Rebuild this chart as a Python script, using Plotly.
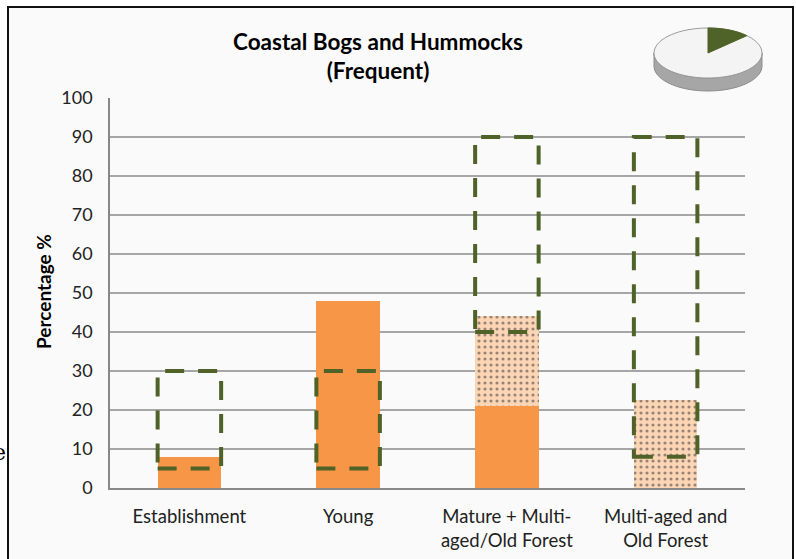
import numpy as np
import plotly.graph_objects as go

categories = ["Establishment", "Young", "Mature + Multi-<br>aged/Old Forest", "Multi-aged and<br>Old Forest"]
solid_values = [8, 48, 21, 0]
stipple_values = [0, 0, 23, 22.5]
range_low = [5, 5, 40, 8]
range_high = [30, 30, 90, 90]
y_ticks = [0, 10, 20, 30, 40, 50, 60, 70, 80, 90, 100]

W, H = 796, 559
L, R, T, B = 110, 745, 98, 488

def px(x):
    return (x - L) / (R - L)

def py(y):
    return (B - y) / (B - T)

fig = go.Figure()
fig.add_trace(go.Bar(x=list(range(len(categories))), y=solid_values, marker=dict(color="#f79646", line=dict(width=0)),
                     width=0.4, showlegend=False, hoverinfo="skip"))
fig.add_trace(go.Bar(x=list(range(len(categories))), y=stipple_values,
                     marker=dict(color="#fcd5b5", line=dict(width=0),
                                 pattern=dict(shape=".", fgcolor="#333333", bgcolor="#fcd5b5", size=6, solidity=0.22)),
                     width=0.4, showlegend=False, hoverinfo="skip"))

shapes = []
# frame
shapes.append(dict(type="rect", xref="paper", yref="paper", x0=px(8), x1=px(793), y0=py(575), y1=py(7),
                   fillcolor="#fafafa", line=dict(color="#111111", width=2), layer="below"))
# dashed range rectangles
for i, (lo, hi) in enumerate(zip(range_low, range_high)):
    shapes.append(dict(type="rect", xref="x", yref="y", x0=i - 0.2, x1=i + 0.2, y0=lo, y1=hi,
                       line=dict(color="#4f6228", width=4, dash="19px,14px"), layer="above"))

# pie icon
cx, cy, rx, ry, depth = 708, 53, 54, 25, 13
t = np.linspace(0, 2 * np.pi, 80)
def path_from(pts):
    return "M " + " L ".join(f"{px(a):.5f},{py(b):.5f}" for a, b in pts) + " Z"
side = [(cx + rx * np.cos(a), cy + ry * np.sin(a)) for a in np.linspace(0, np.pi, 40)]
side_bottom = [(cx + rx * np.cos(a), cy + depth + ry * np.sin(a)) for a in np.linspace(np.pi, 0, 40)]
shapes.append(dict(type="path", xref="paper", yref="paper", path=path_from(side_bottom[::-1] + side[::-1]),
                   fillcolor="#a6a6a6", line=dict(color="#8c8c8c", width=1)))
top = [(cx + rx * np.cos(a), cy + ry * np.sin(a)) for a in t]
shapes.append(dict(type="path", xref="paper", yref="paper", path=path_from(top),
                   fillcolor="#f4f4f4", line=dict(color="#9a9a9a", width=1)))
wedge = [(cx, cy)] + [(cx + rx * np.cos(a), cy - ry * np.sin(a)) for a in np.linspace(np.pi / 2, np.radians(44), 15)]
shapes.append(dict(type="path", xref="paper", yref="paper", path=path_from(wedge),
                   fillcolor="#4f6228", line=dict(color="#4f6228", width=1)))

annotations = [
    dict(text="<b>Coastal Bogs and Hummocks<br>(Frequent)</b>", xref="paper", yref="paper",
         x=px(378), y=py(56), xanchor="center", yanchor="middle", showarrow=False,
         font=dict(family="Lato", size=22.5, color="#000000")),
    dict(text="<b>Percentage %</b>", xref="paper", yref="paper", x=px(43), y=py(292), textangle=-90,
         xanchor="center", yanchor="middle", showarrow=False,
         font=dict(family="Lato", size=19, color="#000000")),
    dict(text="e", xref="paper", yref="paper", x=px(8), y=py(452), xanchor="right", yanchor="middle",
         showarrow=False, font=dict(family="DejaVu Serif", size=22, color="#000000")),
]

fig.update_layout(
    width=W, height=H, barmode="stack",
    margin=dict(l=L, r=W - R, t=T, b=H - B),
    paper_bgcolor="#ffffff", plot_bgcolor="rgba(0,0,0,0)",
    shapes=shapes, annotations=annotations,
    xaxis=dict(tickmode="array", tickvals=list(range(len(categories))), ticktext=categories,
               range=[-0.5, len(categories) - 0.5], showgrid=False, showline=True, automargin=False,
               linecolor="#888888", linewidth=1.5, ticks="", zeroline=False, ticklabelstandoff=11,
               tickfont=dict(family="Lato", size=18.5, color="#222222")),
    yaxis=dict(range=[0, 100], tickvals=y_ticks, showgrid=True, gridcolor="#a6a6a6", gridwidth=1.5,
               showline=True, linecolor="#888888", linewidth=1.5, ticks="", zeroline=False,
               ticklabelstandoff=12, automargin=False,
               tickfont=dict(family="Lato", size=18, color="#222222")),
)
fig.write_html("out.html", config={"displayModeBar": False},
               post_script="document.body.style.margin='0';")
